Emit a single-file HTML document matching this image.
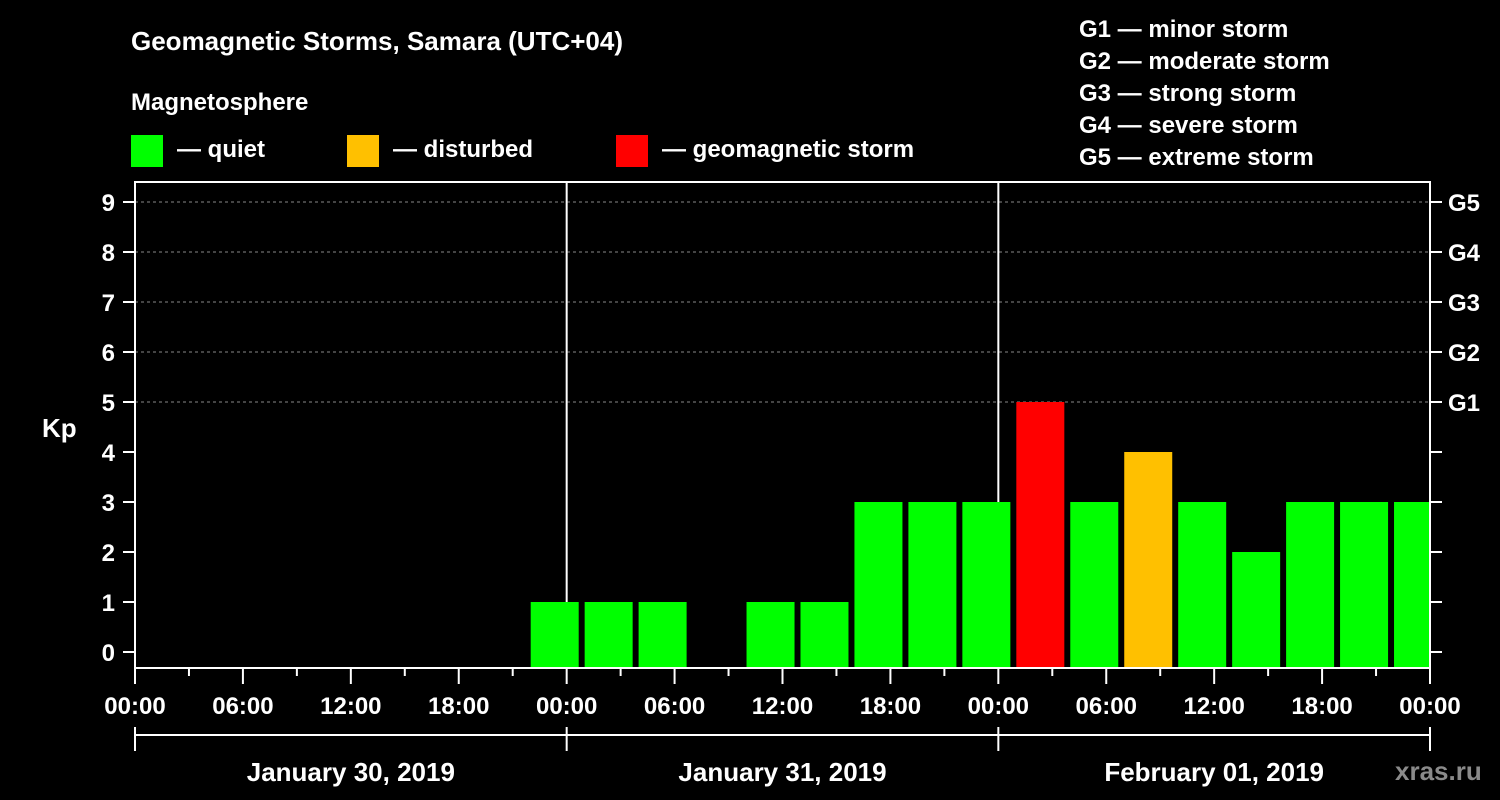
<!DOCTYPE html>
<html><head><meta charset="utf-8"><style>
html,body{margin:0;padding:0;background:#000;}
svg{display:block;}
text{font-family:"Liberation Sans",sans-serif;font-weight:bold;fill:#fff;}
</style></head><body>
<svg id="chart" width="1500" height="800" viewBox="0 0 1500 800">
<text x="131" y="50" font-size="26">Geomagnetic Storms, Samara (UTC+04)</text>
<text x="131" y="110" font-size="24">Magnetosphere</text>
<g><rect x="131" y="135" width="32" height="32" fill="#00ff00"/><text x="177" y="157" font-size="24">— quiet</text></g>
<g><rect x="347" y="135" width="32" height="32" fill="#ffc000"/><text x="393" y="157" font-size="24">— disturbed</text></g>
<g><rect x="616" y="135" width="32" height="32" fill="#ff0000"/><text x="662" y="157" font-size="24">— geomagnetic storm</text></g>
<g font-size="24">
<text x="1079" y="37">G1 — minor storm</text>
<text x="1079" y="69">G2 — moderate storm</text>
<text x="1079" y="101">G3 — strong storm</text>
<text x="1079" y="133">G4 — severe storm</text>
<text x="1079" y="165">G5 — extreme storm</text>
</g>
<text x="42" y="437" font-size="26">Kp</text>
<text x="1395" y="780" font-size="26" fill="#888" style="fill:#8a8a8a">xras.ru</text>
<g id="grid"></g><g id="bars"></g><g id="axes"></g>
</svg>
<script>
const kpValues = [1,1,1,null,1,1,3,3,3,5,3,4,3,2,3,3,3];
const barStartHours = [22,25,28,31,34,37,40,43,46,49,52,55,58,61,64,67,70];
const yTickLabels = ["0","1","2","3","4","5","6","7","8","9"];
const gLabels = ["","","","","","G1","G2","G3","G4","G5"];
const xTickLabels = ["00:00","06:00","12:00","18:00","00:00","06:00","12:00","18:00","00:00","06:00","12:00","18:00","00:00"];
const dayLabels = ["January 30, 2019","January 31, 2019","February 01, 2019"];

const X0=135,X1=1430,YT=182,YB=668,NS="http://www.w3.org/2000/svg";
const hoursTotal=72;
const xs=h=>X0+(X1-X0)*h/hoursTotal;
const ys=v=>652-50*v;
function mk(tag,attrs,parent,txt){const e=document.createElementNS(NS,tag);for(const k in attrs)e.setAttribute(k,attrs[k]);if(txt!==undefined)e.textContent=txt;parent.appendChild(e);return e;}
const grid=document.getElementById('grid'),bars=document.getElementById('bars'),axes=document.getElementById('axes');
// gridlines
for(let v=5;v<=9;v++){const l=mk('line',{x1:X0,x2:X1,y1:ys(v),y2:ys(v),stroke:'#888','stroke-dasharray':'3,3','stroke-width':1},grid);

}
// day separators
for(let d=1;d<3;d++){const l=mk('line',{x1:xs(d*24),x2:xs(d*24),y1:YT,y2:YB,stroke:'#fff','stroke-width':2},grid);

}
// bars
kpValues.forEach((v,i)=>{if(v===null)return;
const x=xs(barStartHours[i]);const w=Math.min(48,X1-x);
const c=v>=5?'#ff0000':(v>=4?'#ffc000':'#00ff00');
const r=mk('rect',{x:x,y:ys(v),width:w,height:YB-ys(v),fill:c},bars);

});
// frame
const f=mk('rect',{x:X0,y:YT,width:X1-X0,height:YB-YT,fill:'none',stroke:'#fff','stroke-width':2},axes);


// y ticks
yTickLabels.forEach((t,i)=>{const y=ys(i);
mk('line',{x1:X0-12,x2:X0,y1:y,y2:y,stroke:'#fff','stroke-width':2},axes);
mk('line',{x1:X1,x2:X1+12,y1:y,y2:y,stroke:'#fff','stroke-width':2},axes);
const tl=mk('text',{x:X0-20,y:y+9,'font-size':24,'text-anchor':'end'},axes,t);


if(gLabels[i]){const g=mk('text',{x:X1+18,y:y+9,'font-size':24},axes,gLabels[i]);

}});
// x ticks
for(let h=0;h<=hoursTotal;h+=3){const x=xs(h);const major=h%6===0;
mk('line',{x1:x,x2:x,y1:YB,y2:YB+(major?16:8),stroke:'#fff','stroke-width':2},axes);}
xTickLabels.forEach((t,i)=>{const tl=mk('text',{x:xs(i*6),y:714,'font-size':24,'text-anchor':'middle'},axes,t);

});
// day bracket
mk('line',{x1:X0,x2:X1,y1:735,y2:735,stroke:'#fff','stroke-width':2},axes);
for(let d=0;d<=3;d++){mk('line',{x1:xs(d*24),x2:xs(d*24),y1:727,y2:751,stroke:'#fff','stroke-width':2},axes);}
dayLabels.forEach((t,i)=>{const tl=mk('text',{x:xs(i*24+12),y:781,'font-size':26,'text-anchor':'middle'},axes,t);

});
</script>
</body></html>
